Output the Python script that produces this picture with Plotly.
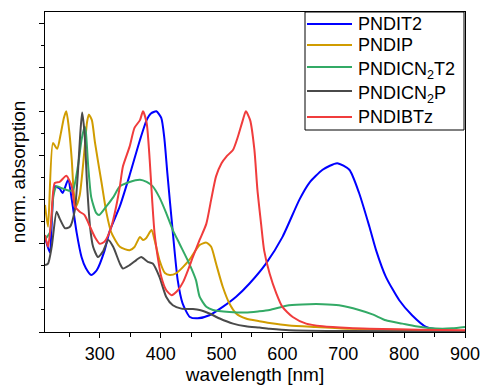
import plotly.graph_objects as go

# PNDIT2 (blue)
wl_t2 = [210, 218, 226, 234, 239, 248, 254, 262, 270, 277, 286, 295, 308, 316, 333, 349, 366, 377, 384, 393, 401, 406, 411, 420, 428, 436, 448, 461, 480, 502, 524, 546, 573, 600, 628, 644, 666, 690, 710, 726, 743, 754, 770, 792, 813, 836, 862, 900]
ab_t2 = [0.43, 0.36, 0.66, 0.65, 0.63, 0.69, 0.60, 0.45, 0.34, 0.29, 0.258, 0.28, 0.37, 0.455, 0.57, 0.71, 0.87, 0.96, 0.99, 1.0, 0.97, 0.88, 0.72, 0.45, 0.235, 0.13, 0.068, 0.062, 0.076, 0.114, 0.16, 0.22, 0.31, 0.43, 0.60, 0.675, 0.735, 0.765, 0.735, 0.63, 0.477, 0.37, 0.25, 0.144, 0.076, 0.023, 0.008, 0.0]

# PNDIP (gold)
wl_p = [210, 215, 223, 230, 236, 241, 245, 249, 254, 257, 261, 267, 274, 279, 282, 287, 292, 303, 311, 319, 333, 349, 357, 366, 371, 376, 385, 390, 398, 407, 415, 426, 437, 448, 464, 475, 483, 491, 502, 513, 524, 540, 562, 579, 611, 655, 710, 792, 900]
ab_p = [0.576, 0.477, 0.856, 0.83, 0.90, 0.97, 1.0, 0.93, 0.78, 0.64, 0.57, 0.62, 0.80, 0.95, 0.985, 0.96, 0.86, 0.675, 0.54, 0.45, 0.386, 0.37, 0.385, 0.43, 0.417, 0.425, 0.462, 0.417, 0.326, 0.267, 0.258, 0.267, 0.295, 0.33, 0.394, 0.405, 0.386, 0.31, 0.205, 0.129, 0.084, 0.061, 0.049, 0.041, 0.030, 0.023, 0.015, 0.010, 0.005]

# PNDICN2T2 (green)
wl_cn2t2 = [210, 218, 224, 229, 239, 250, 256, 264, 270, 275, 277, 281, 286, 294, 299, 311, 322, 333, 349, 366, 377, 387, 398, 409, 420, 431, 447, 458, 464, 475, 486, 513, 540, 562, 579, 611, 644, 666, 693, 726, 748, 770, 797, 819, 841, 863, 879, 900]
ab_cn2t2 = [0.42, 0.45, 0.62, 0.66, 0.65, 0.64, 0.644, 0.75, 0.87, 0.93, 0.91, 0.75, 0.61, 0.54, 0.53, 0.57, 0.61, 0.66, 0.68, 0.69, 0.68, 0.66, 0.61, 0.54, 0.462, 0.40, 0.31, 0.235, 0.16, 0.114, 0.10, 0.091, 0.088, 0.094, 0.10, 0.121, 0.126, 0.126, 0.121, 0.10, 0.08, 0.053, 0.038, 0.026, 0.018, 0.015, 0.017, 0.023]

# PNDICN2P (dark grey)
wl_cn2p = [210, 215, 221, 229, 234, 243, 251, 259, 264, 268, 271, 275, 279, 284, 289, 297, 305, 314, 322, 333, 338, 349, 360, 368, 379, 387, 398, 409, 420, 434, 453, 464, 480, 497, 519, 540, 562, 579, 611, 710, 900]
ab_cn2p = [0.303, 0.31, 0.386, 0.545, 0.515, 0.47, 0.477, 0.553, 0.72, 0.90, 0.995, 0.90, 0.675, 0.477, 0.386, 0.34, 0.364, 0.417, 0.386, 0.31, 0.288, 0.303, 0.326, 0.34, 0.318, 0.31, 0.25, 0.16, 0.121, 0.106, 0.104, 0.10, 0.084, 0.061, 0.038, 0.026, 0.020, 0.015, 0.008, 0.004, 0.002]

# PNDIBTz (red)
wl_btz = [210, 215, 220, 226, 234, 245, 254, 259, 267, 275, 284, 292, 300, 308, 319, 327, 333, 338, 349, 357, 366, 371, 377, 382, 386, 390, 396, 401, 409, 418, 426, 437, 446, 453, 464, 475, 483, 491, 500, 508, 519, 527, 535, 540, 547, 554, 559, 565, 570, 579, 590, 600, 617, 639, 666, 710, 743, 825, 900]
ab_btz = [0.44, 0.386, 0.50, 0.675, 0.68, 0.708, 0.66, 0.57, 0.545, 0.53, 0.477, 0.43, 0.40, 0.41, 0.477, 0.57, 0.66, 0.75, 0.84, 0.925, 0.96, 1.0, 0.947, 0.78, 0.60, 0.447, 0.326, 0.25, 0.19, 0.167, 0.182, 0.227, 0.288, 0.34, 0.417, 0.49, 0.60, 0.705, 0.765, 0.795, 0.826, 0.886, 0.96, 1.0, 0.96, 0.826, 0.644, 0.49, 0.37, 0.265, 0.175, 0.114, 0.068, 0.038, 0.026, 0.018, 0.015, 0.010, 0.008]

names = ["PNDIT2", "PNDIP", "PNDICN<sub>2</sub>T2", "PNDICN<sub>2</sub>P", "PNDIBTz"]
colors = ["#0000FF", "#D09C00", "#33AA66", "#4A4A4A", "#F03C3C"]
wls = [wl_t2, wl_p, wl_cn2t2, wl_cn2p, wl_btz]
abss = [ab_t2, ab_p, ab_cn2t2, ab_cn2p, ab_btz]

x_ticks = [300, 400, 500, 600, 700, 800, 900]

W, H = 483, 385
ML, MR, MT, MB = 45, 18, 12, 53
PW, PH = W - ML - MR, H - MT - MB


def px2paper_x(px):
    return (px - ML) / PW


def px2paper_y(py):
    return (H - MB - py) / PH


fig = go.Figure()
for name, x, y, c in zip(names, wls, abss, colors):
    fig.add_trace(go.Scatter(x=x, y=y, name=name, mode="lines", showlegend=False,
                             line=dict(color=c, width=2, shape="spline", smoothing=0.6)))

# legend drawn as box + sample lines + text (layout positions in pixels)
leg_box = (305, 12, 464, 130)
leg_rows = [24, 45, 67, 91, 117]
leg_line_x = (307, 352)
leg_text_x = 356
shapes = [dict(type="rect", xref="paper", yref="paper", layer="above",
               x0=px2paper_x(leg_box[0]), x1=px2paper_x(leg_box[2]),
               y0=px2paper_y(leg_box[3]), y1=px2paper_y(leg_box[1]),
               fillcolor="white", line=dict(color="black", width=1))]
annotations = []
for name, c, ry in zip(names, colors, leg_rows):
    shapes.append(dict(type="line", xref="paper", yref="paper", layer="above",
                       x0=px2paper_x(leg_line_x[0]), x1=px2paper_x(leg_line_x[1]),
                       y0=px2paper_y(ry), y1=px2paper_y(ry),
                       line=dict(color=c, width=2)))
    shift = 3 if "<sub>" in name else 0
    annotations.append(dict(text=name, xref="paper", yref="paper",
                            x=px2paper_x(leg_text_x), y=px2paper_y(ry + shift),
                            xanchor="left", yanchor="middle", showarrow=False,
                            font=dict(size=18, color="black")))

font = "Liberation Sans, Arial, sans-serif"
fig.update_layout(
    width=W, height=H,
    margin=dict(l=ML, r=MR, t=MT, b=MB, autoexpand=False),
    plot_bgcolor="white", paper_bgcolor="white",
    font=dict(family=font, size=18, color="black"),
    showlegend=False,
    shapes=shapes, annotations=annotations,
    xaxis=dict(range=[210, 900], tickvals=x_ticks, ticks="outside", ticklen=5,
               tickcolor="black", showline=True, linecolor="black", linewidth=1.3,
               mirror=True, showgrid=False, zeroline=False, automargin=False,
               tickfont=dict(size=18),
               minor=dict(dtick=50, tick0=0, ticks="outside", ticklen=4, tickcolor="black"),
               title=dict(text="wavelength [nm]", font=dict(size=19), standoff=4)),
    yaxis=dict(range=[0, 1.45], dtick=0.2, tick0=0, ticks="outside", ticklen=5,
               tickcolor="black", showline=True, linecolor="black", linewidth=1.3,
               mirror=True, showgrid=False, zeroline=False, showticklabels=False,
               automargin=False,
               minor=dict(dtick=0.1, tick0=0, ticks="outside", ticklen=3, tickcolor="black"),
               title=dict(text="norm. absorption", font=dict(size=19), standoff=8)),
)

fig.write_html("out.html")
